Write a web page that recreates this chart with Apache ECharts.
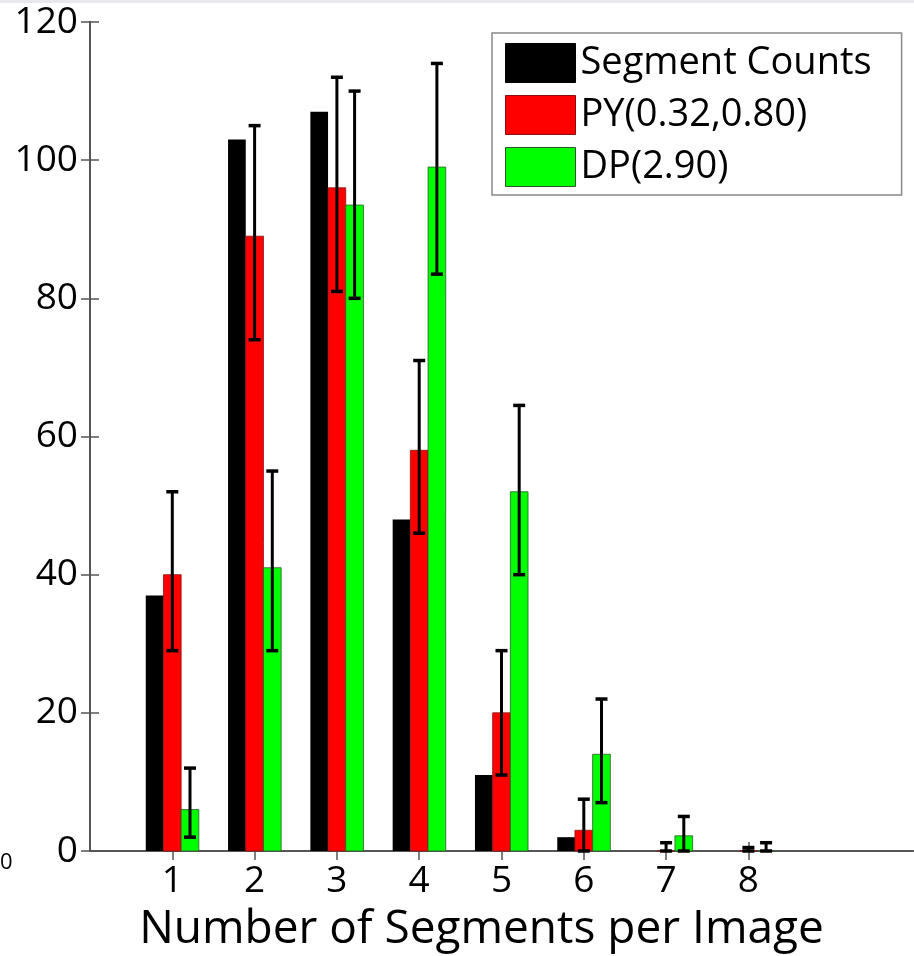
<!DOCTYPE html>
<html>
<head>
<meta charset="utf-8">
<script src="https://cdn.jsdelivr.net/npm/echarts@6/dist/echarts.min.js"></script>
<style>html,body{margin:0;padding:0;background:#fff;overflow:hidden}#c{width:914px;height:956px}</style>
</head>
<body>
<div id="c"></div>
<script>
const categories = [1, 2, 3, 4, 5, 6, 7, 8];
const segmentCounts = [37, 103, 107, 48, 11, 2, 0, 0];
const pyValues = [40, 89, 96, 58, 20, 3, 0, 0];
const pyLow = [29, 74, 81, 46, 11, 0, 0, 0];
const pyHigh = [52, 105, 112, 71, 29, 7.5, 1.2, 0.5];
const dpValues = [6, 41, 93.5, 99, 52, 14, 2.2, 0];
const dpLow = [2, 29, 80, 83.5, 40, 7, 0, 0];
const dpHigh = [12, 55, 110, 114, 64.5, 22, 5, 1.2];
const seriesNames = ['Segment Counts', 'PY(0.32,0.80)', 'DP(2.90)'];
const yTicks = [0, 20, 40, 60, 80, 100, 120];

const FONT = 'Open Sans';
const BW = 0.215;
const offsets = [-BW, 0, BW];
const colors = ['#000000', '#ff0000', '#00ff00'];
const borders = ['#000000', '#8a1010', '#2a5a2a'];

function barSeries(idx, vals) {
  return {
    type: 'custom', name: seriesNames[idx],
    itemStyle: { color: colors[idx], borderColor: borders[idx], borderWidth: 1 },
    data: categories.map((c, i) => [c, vals[i]]),
    encode: { x: 0, y: 1 },
    renderItem: function (params, api) {
      const x = api.value(0) + offsets[idx];
      const p0 = api.coord([x - BW / 2, api.value(1)]);
      const p1 = api.coord([x + BW / 2, 0]);
      return {
        type: 'rect',
        shape: { x: p0[0], y: p0[1], width: p1[0] - p0[0], height: p1[1] - p0[1] },
        style: { fill: colors[idx], stroke: borders[idx], lineWidth: idx === 0 ? 0 : 0.8 }
      };
    },
    z: 2
  };
}

function errSeries(idx, lo, hi) {
  return {
    type: 'custom', name: 'err' + idx,
    data: categories.map((c, i) => [c, lo[i], hi[i]]),
    encode: { x: 0, y: [1, 2] },
    renderItem: function (params, api) {
      const x = api.value(0) + offsets[idx];
      const a = api.coord([x, api.value(1)]);
      const b = api.coord([x, api.value(2)]);
      const hw = 6;
      const st = { stroke: '#000', lineWidth: 3 };
      return {
        type: 'group',
        children: [
          { type: 'line', shape: { x1: a[0], y1: a[1], x2: b[0], y2: b[1] }, style: st },
          { type: 'line', shape: { x1: a[0] - hw, y1: a[1], x2: a[0] + hw, y2: a[1] }, style: { stroke: '#000', lineWidth: 3.5 } },
          { type: 'line', shape: { x1: b[0] - hw, y1: b[1], x2: b[0] + hw, y2: b[1] }, style: { stroke: '#000', lineWidth: 3.5 } }
        ]
      };
    },
    z: 3
  };
}

const axisLineStyle = { color: '#555', width: 2 };
const chart = echarts.init(document.getElementById('c'));
chart.setOption({
  animation: false,
  backgroundColor: '#fff',
  grid: { left: 90, right: 1, top: 22, bottom: 105, containLabel: false, outerBoundsMode: 'none' },
  xAxis: [
    {
      type: 'value', min: 0, max: 10, interval: 1, position: 'bottom',
      axisLine: { show: true, lineStyle: axisLineStyle },
      axisTick: { show: true, inside: true, length: 9, lineStyle: { color: '#555', width: 1.5 }, customValues: categories },
      axisLabel: { customValues: categories, fontFamily: FONT, fontSize: 37, color: '#000', margin: 12 },
      splitLine: { show: false },
      name: 'Number of Segments per Image', nameLocation: 'middle', nameGap: 56,
      nameTextStyle: { fontFamily: FONT, fontSize: 46, color: '#000', padding: [0, 40, 0, 0] }
    },
    {
      type: 'value', min: 0, max: 10, interval: 1, position: 'top',
      axisLine: { show: true, lineStyle: axisLineStyle },
      axisTick: { show: true, inside: true, length: 9, lineStyle: { color: '#555', width: 1.5 }, customValues: categories },
      axisLabel: { show: false },
      splitLine: { show: false }
    }
  ],
  yAxis: [
    {
      type: 'value', min: 0, max: 120, interval: 20, position: 'left',
      axisLine: { show: true, lineStyle: axisLineStyle },
      axisTick: { show: true, inside: true, length: 9, lineStyle: { color: '#555', width: 1.5 }, customValues: yTicks },
      axisLabel: { customValues: yTicks, fontFamily: FONT, fontSize: 37, color: '#000', margin: 12 },
      splitLine: { show: false }
    },
    {
      type: 'value', min: 0, max: 120, interval: 20, position: 'right',
      axisLine: { show: true, lineStyle: axisLineStyle },
      axisTick: { show: true, inside: true, length: 9, lineStyle: { color: '#555', width: 1.5 } },
      axisLabel: { show: false },
      splitLine: { show: false }
    }
  ],
  legend: {
    data: seriesNames,
    orient: 'vertical', left: 492, top: 33,
    icon: 'rect', itemWidth: 70, itemHeight: 39, itemGap: 12,
    padding: [10, 30, 8, 13],
    borderColor: '#888', borderWidth: 1.5, backgroundColor: '#fff',
    textStyle: { fontFamily: FONT, fontSize: 38, color: '#000' },
    itemStyle: { borderWidth: 1 }
  },
  graphic: [
    { type: 'rect', shape: { x: 0, y: 0, width: 914, height: 3 }, style: { fill: '#e8e8ef' }, silent: true },
    { type: 'text', left: 0, top: 852, style: { text: '0', fontFamily: FONT, fontSize: 22, fill: '#000' }, silent: true }
  ],
  series: [
    barSeries(0, segmentCounts),
    barSeries(1, pyValues),
    barSeries(2, dpValues),
    errSeries(1, pyLow, pyHigh),
    errSeries(2, dpLow, dpHigh)
  ]
});
</script>
</body>
</html>
